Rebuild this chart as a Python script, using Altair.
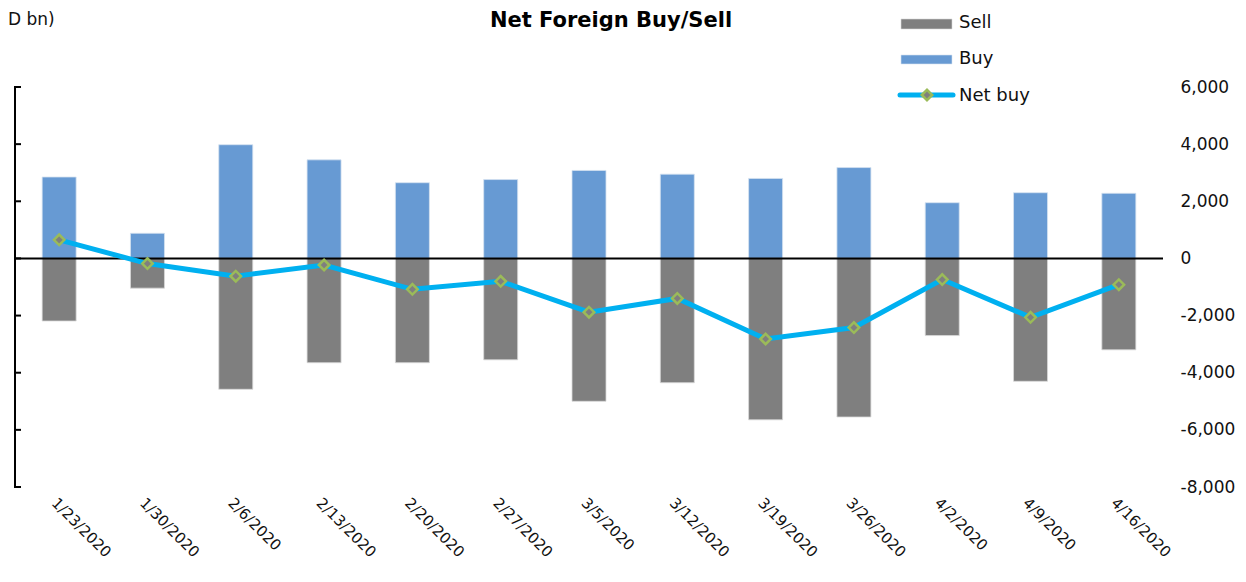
import altair as alt
import pandas as pd

# ---- data ----
dates = ["1/23/2020", "1/30/2020", "2/6/2020", "2/13/2020", "2/20/2020", "2/27/2020",
         "3/5/2020", "3/12/2020", "3/19/2020", "3/26/2020", "4/2/2020", "4/9/2020", "4/16/2020"]
buy = [2850, 880, 3980, 3450, 2650, 2760, 3080, 2950, 2800, 3180, 1950, 2300, 2280]
sell = [-2190, -1040, -4580, -3650, -3650, -3550, -5000, -4350, -5650, -5550, -2700, -4300, -3200]
net = [650, -180, -620, -230, -1080, -800, -1880, -1400, -2820, -2420, -740, -2060, -920]
tick_values = [-8000, -6000, -4000, -2000, 0, 2000, 4000, 6000]
series = ["Sell", "Buy", "Net buy"]
title_text = ["Net Foreign Buy/Sell"]
unit_text = ["D bn)"]

SELL_C = "#7f7f7f"
BUY_C = "#679ad3"
NET_C = "#00b0f0"
MARK_STROKE = "#9bbb59"
FONT = "DejaVu Sans"
W, H = 1148, 400

df = pd.DataFrame({"date": dates, "Buy": buy, "Sell": sell, "Net": net})
ticks_df = pd.DataFrame({"v": tick_values})
one = pd.DataFrame({"z": [0]})

x = alt.X("date:N", sort=dates,
          scale=alt.Scale(paddingInner=0, paddingOuter=0),
          axis=alt.Axis(title=None, labelAngle=45, labelAlign="left", labelBaseline="top",
                        labelPadding=8, domain=False, ticks=False, labelFont=FONT,
                        labelFontSize=15, labelColor="#111", labelOverlap=False))
yscale = alt.Scale(domain=[-8000, 6000], nice=False, zero=False)
yaxis = alt.Axis(orient="right", values=tick_values, title=None,
                 labelExpr="replace(format(datum.value, ',.0f'), '\u2212', '-')",
                 domain=False, ticks=False, grid=False, labelPadding=17,
                 labelAlign="left", labelFont=FONT, labelFontSize=17,
                 labelColor="#111")


def Y(field):
    return alt.Y(field, scale=yscale, axis=yaxis, title=None)


base = alt.Chart(df)

buy_bars = base.mark_bar(size=34, color=BUY_C, stroke="#d6e2f0", strokeWidth=0.8).encode(
    x=x, y=Y("Buy:Q"), y2=alt.datum(0),
)
sell_bars = base.mark_bar(size=34, color=SELL_C, stroke="#d9d9d9", strokeWidth=0.8).encode(
    x=x, y=Y("Sell:Q"), y2=alt.datum(0)
)

zero_line = alt.Chart(one).mark_rule(color="black", strokeWidth=2).encode(
    y=Y("z:Q"), x=alt.value(0), x2=alt.value(W)
)
left_domain = alt.Chart(one).mark_rule(color="black", strokeWidth=2).encode(
    x=alt.value(0), y=alt.value(0), y2=alt.value(H)
)
left_ticks = alt.Chart(ticks_df).mark_rule(color="black", strokeWidth=2).encode(
    y=Y("v:Q"), x=alt.value(-1), x2=alt.value(6)
)

net_line = base.mark_line(color=NET_C, strokeWidth=5).encode(
    x=x, y=Y("Net:Q")
)
net_pts = base.mark_point(shape="diamond", filled=True, fill=SELL_C, stroke=MARK_STROKE,
                          strokeWidth=2.5, size=110, opacity=1).encode(
    x=x, y=Y("Net:Q")
)

# ---- manual legend ----
def row(i):
    return alt.Chart(pd.DataFrame({"name": [series[i]]}))

leg_sell_sw = row(0).mark_rect(color=SELL_C, stroke="#d9d9d9", strokeWidth=0.6).encode(
    x=alt.value(886), x2=alt.value(937), y=alt.value(-68), y2=alt.value(-58))
leg_sell_tx = row(0).mark_text(align="left", baseline="middle", font=FONT, fontSize=18,
                               color="#111").encode(
    text="name:N", x=alt.value(944), y=alt.value(-64))
leg_buy_sw = row(1).mark_rect(color=BUY_C, stroke="#d6e2f0", strokeWidth=0.6).encode(
    x=alt.value(886), x2=alt.value(937), y=alt.value(-32), y2=alt.value(-23))
leg_buy_tx = row(1).mark_text(align="left", baseline="middle", font=FONT, fontSize=18,
                              color="#111").encode(
    text="name:N", x=alt.value(944), y=alt.value(-28))
leg_net_ln = row(2).mark_rule(color=NET_C, strokeWidth=5, strokeCap="round").encode(
    x=alt.value(885), x2=alt.value(938), y=alt.value(8))
leg_net_pt = row(2).mark_point(shape="diamond", filled=True, fill=SELL_C, stroke=MARK_STROKE,
                               strokeWidth=2.5, size=110, opacity=1).encode(
    x=alt.value(912), y=alt.value(8))
leg_net_tx = row(2).mark_text(align="left", baseline="middle", font=FONT, fontSize=18,
                              color="#111").encode(
    text="name:N", x=alt.value(944), y=alt.value(9))

title = alt.Chart(pd.DataFrame({"t": title_text})).mark_text(
    align="center", baseline="top", font=FONT, fontSize=21, fontWeight="bold",
    color="#000").encode(text="t:N", x=alt.value(596), y=alt.value(-77))
unit = alt.Chart(pd.DataFrame({"t": unit_text})).mark_text(
    align="left", baseline="middle", font=FONT, fontSize=17, color="#111").encode(
    text="t:N", x=alt.value(-7), y=alt.value(-67))

chart = alt.layer(
    buy_bars, sell_bars, zero_line, left_domain, left_ticks, net_line, net_pts,
    leg_sell_sw, leg_sell_tx, leg_buy_sw, leg_buy_tx, leg_net_ln, leg_net_pt, leg_net_tx,
    title, unit,
).properties(
    width=W, height=H,
    autosize=alt.AutoSizeParams(type="none"),
    padding={"left": 7, "top": 79, "right": 75, "bottom": 82},
    background="white",
).configure_view(stroke=None)

chart.save("out.html", embed_options={"renderer": "svg", "actions": False})
